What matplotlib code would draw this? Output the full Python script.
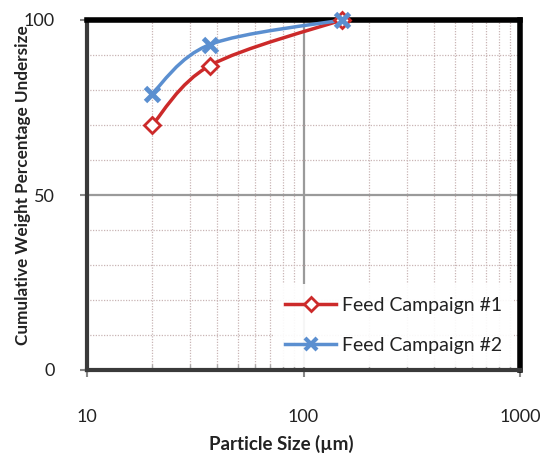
import numpy as np
from matplotlib import pyplot as plt
from matplotlib.path import Path
from matplotlib.patches import PathPatch
from matplotlib.lines import Line2D
from matplotlib.ticker import LogLocator, FixedLocator, NullFormatter

plt.rcParams['font.family'] = ['Lato', 'DejaVu Sans']

# particle size (um) and cumulative % undersize
sizes = [20, 37, 150]
campaign1 = [70, 87, 100]
campaign2 = [79, 93, 100]
labels = ['Feed Campaign #1', 'Feed Campaign #2']

red = '#cc2a2a'
blue = '#5b8fd0'


def smooth_path(x, y):
    # Catmull-Rom style bezier through the points, in log-x space
    lx = np.log10(x)
    pts = np.column_stack([lx, y])
    n = len(pts)
    verts = [pts[0]]
    codes = [Path.MOVETO]
    for i in range(n - 1):
        p0 = pts[max(i - 1, 0)]
        p1 = pts[i]
        p2 = pts[i + 1]
        p3 = pts[min(i + 2, n - 1)]
        c1 = p1 + (p2 - p0) / 6
        c2 = p2 - (p3 - p1) / 6
        verts += [c1, c2, p2]
        codes += [Path.CURVE4] * 3
    verts = np.array(verts)
    verts[:, 0] = 10 ** verts[:, 0]
    return Path(verts, codes)


fig = plt.figure(figsize=(5.45, 4.53), dpi=100)
ax = fig.add_axes([87 / 545, 1 - 370 / 453, 433 / 545, 350 / 453])
ax.set_xscale('log')
ax.set_xlim(10, 1000)
ax.set_ylim(0, 100)

# grid
ax.xaxis.set_minor_locator(LogLocator(base=10, subs=np.arange(2, 10)))
ax.xaxis.set_minor_formatter(NullFormatter())
ax.yaxis.set_major_locator(FixedLocator([0, 50, 100]))
ax.yaxis.set_minor_locator(FixedLocator([10, 20, 30, 40, 60, 70, 80, 90]))
ax.grid(which='minor', color='#c9b5b5', lw=0.9, ls=(0, (1, 1.2)))
ax.grid(which='major', color='#9a9a9a', lw=1.6, ls='-')

for ys, color in [(campaign1, red), (campaign2, blue)]:
    ax.add_patch(PathPatch(smooth_path(sizes, ys), fill=False, edgecolor=color,
                           lw=2.5, zorder=4, clip_on=False))
ax.plot(sizes, campaign1, ls='none', marker='D', ms=8, mfc='white', mec=red,
        mew=2, zorder=5, clip_on=False)
ax.plot(sizes, campaign2, ls='none', marker='x', ms=10, mec=blue, mew=3.5,
        zorder=6, clip_on=False)

for side in ['top', 'right']:
    ax.spines[side].set_color('black')
    ax.spines[side].set_linewidth(4)
for side in ['left', 'bottom']:
    ax.spines[side].set_color('#3a3a3a')
    ax.spines[side].set_linewidth(3)

ax.tick_params(which='major', direction='out', length=5, width=1.5,
               color='#888888', labelsize=13, labelcolor='#222222')
ax.tick_params(axis='x', which='major', pad=23)
ax.tick_params(axis='y', which='major', pad=18)
ax.tick_params(which='minor', direction='in', length=4, width=1,
               color='#aaaaaa', left=False)
ax.set_xticks([10, 100, 1000])
ax.set_xticklabels(['10', '100', '1000'])

ax.set_xlabel('Particle Size (µm)', fontsize=13.5, fontweight='bold',
              color='#222222', va='center')
ax.xaxis.set_label_coords((281 - 87) / 433, (370 - 444) / 350)
ax.set_ylabel('Cumulative Weight Percentage Undersize', fontsize=12.3,
              fontweight='bold', color='#222222', va='center')
ax.yaxis.set_label_coords((23 - 87) / 433, (370 - 185) / 350)

handles = [
    Line2D([], [], color=red, lw=2.5, marker='D', ms=7, mfc='white', mec=red, mew=2),
    Line2D([], [], color=blue, lw=2.5, marker='x', ms=8, mec=blue, mew=3),
]
leg = ax.legend(handles, labels, loc='center', fontsize=14,
                bbox_to_anchor=((393.5 - 87) / 433, (370 - 325.5) / 350),
                frameon=True, fancybox=False, handlelength=2.6,
                borderpad=0.65, labelspacing=1.2, handletextpad=0.3)
leg.get_frame().set_facecolor('white')
leg.get_frame().set_edgecolor('none')
leg.get_frame().set_alpha(0.92)
leg.set_zorder(7)
for t in leg.get_texts():
    t.set_color('#222222')

fig.savefig('out.png', dpi=100)
